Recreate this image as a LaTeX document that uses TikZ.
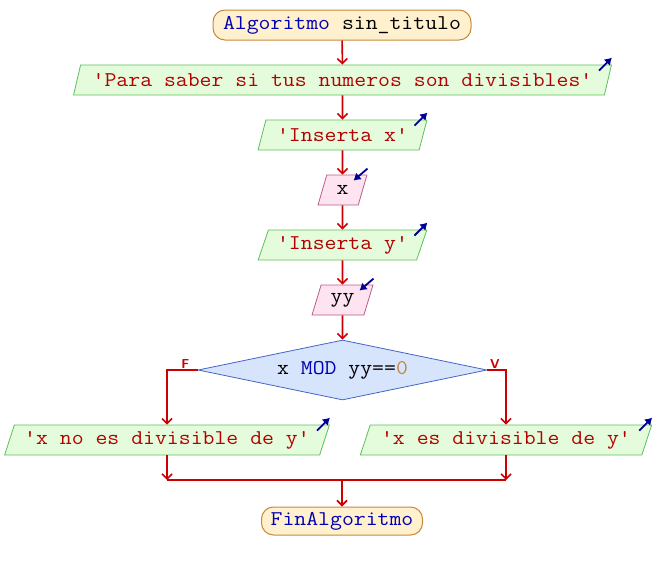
\documentclass[tikz,border=0pt]{standalone}
\usepackage{fontspec}
\setmonofont{Latin Modern Mono}[FakeStretch=1.1]
\usetikzlibrary{arrows.meta,calc,positioning,shapes.geometric}
\definecolor{wire}{HTML}{CC0000}
\definecolor{kw}{HTML}{0000B4}
\definecolor{str}{HTML}{B40000}
\definecolor{num}{HTML}{C08840}
\definecolor{icon}{HTML}{000096}
\definecolor{termFill}{HTML}{FFF0CE}
\definecolor{termDraw}{HTML}{C8883C}
\definecolor{outFill}{HTML}{E4FCDC}
\definecolor{outDraw}{HTML}{5CC05C}
\definecolor{inFill}{HTML}{FDE4F0}
\definecolor{inDraw}{HTML}{C05A88}
\definecolor{condFill}{HTML}{D6E4FC}
\definecolor{condDraw}{HTML}{4664C4}
\newcommand{\codefont}{\fontsize{21}{24}\selectfont\ttfamily}
\tikzset{
    >={Straight Barb[length=5pt,width=10pt]},
    terminal/.style={draw=termDraw, fill=termFill, rounded corners=12pt, line width=1pt,
                     minimum height=30pt, inner sep=0pt, font=\codefont},
    outbox/.style={trapezium, trapezium left angle=63, trapezium right angle=117,
                   trapezium stretches=true, draw=outDraw, fill=outFill, line width=0.8pt,
                   minimum height=30pt, inner sep=0pt, font=\codefont, text=str},
    inbox/.style={trapezium, trapezium left angle=70, trapezium right angle=110,
                  trapezium stretches=true, draw=inDraw, fill=inFill, line width=0.8pt,
                  minimum height=30pt, inner sep=0pt, font=\codefont},
    decision/.style={diamond, aspect=4.8, draw=condDraw, fill=condFill, line width=0.8pt,
                     minimum width=289pt, minimum height=60pt, inner sep=0pt, font=\codefont},
    flow/.style={wire, line width=1.6pt, ->},
    branch/.style={wire, line width=1.6pt},
    branch label/.style={font=\sffamily\bfseries\fontsize{13}{14}\selectfont, text=wire, inner sep=1pt},
    showicon/.style={icon, line width=1.8pt, -{Latex[length=7pt,width=9pt]}},
    readicon/.style={icon, line width=1.8pt, -{Latex[length=7pt,width=9pt]}},
}

\begin{document}
\begin{tikzpicture}[x=1pt, y=-1pt]
\useasboundingbox (0,0) rectangle (654,570);

% ---------------------------------------------------------------------------
% main column
% ---------------------------------------------------------------------------
\node[terminal, minimum width=258pt] (start) at (342,25)
    {\textcolor{kw}{Algoritmo} sin\_titulo};
\node[outbox, minimum width=541pt] (msg) at (342.5,80)
    {'Para saber si tus numeros son divisibles'};
\node[outbox, minimum width=169pt] (askx) at (342.5,135) {'Inserta x'};
\node[inbox, minimum width=49pt] (readx) at (342.5,190) {x};
\node[outbox, minimum width=169pt] (asky) at (342.5,245) {'Inserta y'};
\node[inbox, minimum width=61pt] (ready) at (342.5,300) {yy};
\node[decision] (cond) at (342.5,370)
    {x \textcolor{kw}{MOD} yy==\textcolor{num}{0}};

\draw[flow] (start) -- (msg);
\draw[flow] (msg) -- (askx);
\draw[flow] (askx) -- (readx);
\draw[flow] (readx) -- (asky);
\draw[flow] (asky) -- (ready);
\draw[flow] (ready) -- (cond);

% ---------------------------------------------------------------------------
% branches
% ---------------------------------------------------------------------------
\node[outbox, minimum width=326pt] (notdiv) at (167,440) {'x no es divisible de y'};
\node[outbox, minimum width=292pt] (isdiv) at (506,440) {'x es divisible de y'};

\draw[flow] (cond.west) -| node[branch label, pos=0.2, above] {F} (notdiv.north);
\draw[flow] (cond.east) -| node[branch label, pos=0.2, above] {V} (isdiv.north);

\coordinate (join) at (342,480);
\node[terminal, minimum width=161pt, minimum height=28pt] (stop) at (342,521)
    {\textcolor{kw}{FinAlgoritmo}};

\draw[flow] (notdiv.south) -- (notdiv.south |- join);
\draw[flow] (isdiv.south) -- (isdiv.south |- join);
\draw[branch] (notdiv.south |- join) -- (isdiv.south |- join);
\draw[flow] (join) -- (stop.north);

% in/out icons
\foreach \n in {msg,askx,asky,notdiv,isdiv}
    \draw[showicon] ($(\n.top right corner)+(-13,6)$) -- ($(\n.top right corner)+(0,-7)$);
\foreach \n in {readx,ready}
    \draw[readicon] ($(\n.top right corner)+(0,-6)$) -- ($(\n.top right corner)+(-14,6)$);

\end{tikzpicture}
\end{document}
